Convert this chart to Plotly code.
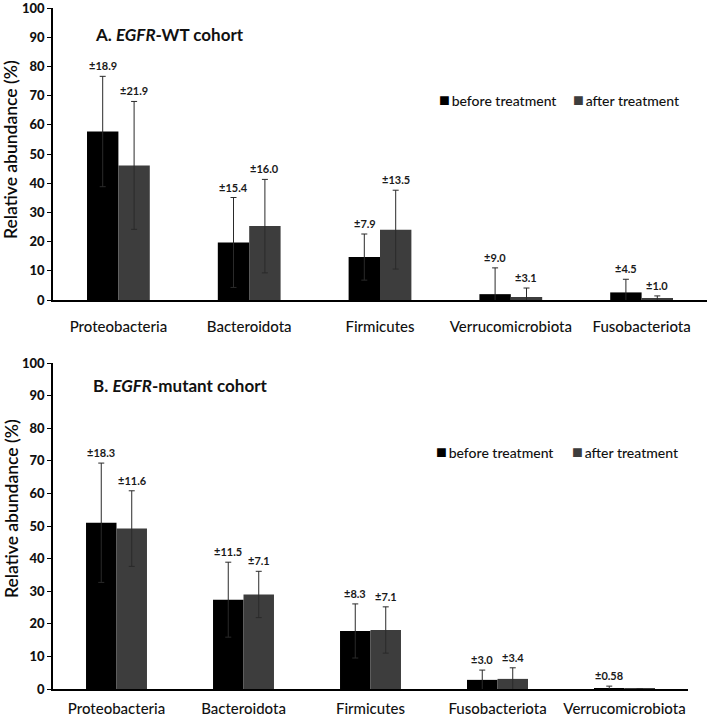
import plotly.graph_objects as go

# ---- data ----
cats_wt = ["Proteobacteria", "Bacteroidota", "Firmicutes", "Verrucomicrobiota", "Fusobacteriota"]
wt_before = [57.7, 19.7, 14.7, 2.0, 2.6]
wt_after = [46.1, 25.3, 24.1, 1.0, 0.4]
wt_before_sd = [18.9, 15.4, 7.9, 9.0, 4.5]
wt_after_sd = [21.9, 16.0, 13.5, 3.1, 1.0]
wt_before_lbl = ["±18.9", "±15.4", "±7.9", "±9.0", "±4.5"]
wt_after_lbl = ["±21.9", "±16.0", "±13.5", "±3.1", "±1.0"]

cats_mt = ["Proteobacteria", "Bacteroidota", "Firmicutes", "Fusobacteriota", "Verrucomicrobiota"]
mt_before = [51.0, 27.4, 17.8, 2.8, 0.3]
mt_after = [49.2, 29.0, 18.1, 3.1, 0.1]
mt_before_sd = [18.3, 11.5, 8.3, 3.0, 0.58]
mt_after_sd = [11.6, 7.1, 7.1, 3.4, 0.0]
mt_before_lbl = ["±18.3", "±11.5", "±8.3", "±3.0", "±0.58"]
mt_after_lbl = ["±11.6", "±7.1", "±7.1", "±3.4", ""]

y_ticks = [0, 10, 20, 30, 40, 50, 60, 70, 80, 90, 100]
series_names = ["before treatment", "after treatment"]
y_title = "Relative abundance (%)"

C_BEFORE = "#000000"
C_AFTER = "#3d3d3d"
FONT = "Lato"
FONT_MED = "Lato Medium, Lato"
W, H = 708, 716

def px_x(p):
    return min(1.0, max(0.0, p / W))

def px_y(p):
    return min(1.0, max(0.0, 1 - p / H))

fig = go.Figure()

def add_panel(cats, before, after, bsd, asd, blbl, albl, xa, ya):
    for vals, sds, col, nm, grp in ((before, bsd, C_BEFORE, series_names[0], "b"),
                                    (after, asd, C_AFTER, series_names[1], "a")):
        fig.add_trace(go.Bar(x=cats, y=vals, name=nm, marker_color=col, marker_line_width=0,
                             showlegend=False,
                             error_y=dict(type="data", array=sds, symmetric=True, color="#2a2a2a",
                                          thickness=1, width=3),
                             xaxis=xa, yaxis=ya, offsetgroup=grp))
    for i, c in enumerate(cats):
        for val, sd, lbl, shift in ((before[i], bsd[i], blbl[i], -0.5), (after[i], asd[i], albl[i], 0.5)):
            if not lbl:
                continue
            fig.add_annotation(x=c, y=val + sd, xref=xa, yref=ya, text="<b>" + lbl + "</b>",
                               showarrow=False, yanchor="bottom", yshift=2,
                               xshift=shift * 31,
                               font=dict(size=11, color="#1a1a1a", family=FONT))

add_panel(cats_wt, wt_before, wt_after, wt_before_sd, wt_after_sd, wt_before_lbl, wt_after_lbl, "x", "y")
add_panel(cats_mt, mt_before, mt_after, mt_before_sd, mt_after_sd, mt_before_lbl, mt_after_lbl, "x2", "y2")

def xax(dom, standoff):
    return dict(domain=dom, showline=True, linecolor="#000000", linewidth=1.5, ticks="",
                showgrid=False, automargin=False, ticklabelstandoff=standoff,
                tickfont=dict(size=15, color="#111111", family=FONT_MED))

def yax(dom, anchor):
    return dict(domain=dom, anchor=anchor, range=[0, 100], tickvals=y_ticks, showline=True,
                linecolor="#000000", linewidth=1.5, ticks="outside", ticklen=4, tickcolor="#000000",
                showgrid=False, zeroline=False, automargin=False, ticklabeloverflow="allow",
                tickfont=dict(size=13, color="#111111", family="Lato Black, Lato"))

fig.update_layout(
    width=W, height=H, margin=dict(l=0, r=0, t=0, b=0, autoexpand=False),
    paper_bgcolor="white", plot_bgcolor="white",
    barmode="group", bargap=0.52, bargroupgap=0,
    font=dict(family=FONT),
    showlegend=False,
    xaxis=dict(anchor="y", **xax([px_x(53), px_x(707)], 12)),
    yaxis=yax([px_y(300), px_y(8)], "x"),
    xaxis2=dict(anchor="y2", **xax([px_x(53), px_x(688)], 5)),
    yaxis2=yax([px_y(689), px_y(363)], "x2"),
)

# y-axis titles
for ycen in (150, 509):
    fig.add_annotation(x=px_x(11), y=px_y(ycen), xref="paper", yref="paper", xanchor="center",
                       yanchor="middle", textangle=-90, showarrow=False, text=y_title,
                       font=dict(size=17.5, color="#0a0a0a", family="Lato Semibold, Lato"))

# panel titles
fig.add_annotation(x=px_x(93), y=px_y(35), xref="paper", yref="paper", xanchor="left", yanchor="middle",
                   text="<b>A. <i>EGFR</i>-WT cohort</b>", showarrow=False,
                   font=dict(size=17, color="#111111", family=FONT))
fig.add_annotation(x=px_x(91), y=px_y(385), xref="paper", yref="paper", xanchor="left", yanchor="middle",
                   text="<b>B. <i>EGFR</i>-mutant cohort</b>", showarrow=False,
                   font=dict(size=17, color="#111111", family=FONT))

# legends (drawn as text with coloured square glyphs)
def legend_row(x0, x1, ypx):
    for xp, nm, col in ((x0, series_names[0], C_BEFORE), (x1, series_names[1], C_AFTER)):
        fig.add_annotation(x=px_x(xp), y=px_y(ypx), xref="paper", yref="paper",
                           xanchor="left", yanchor="middle", showarrow=False,
                           text='<span style="color:%s;font-size:18px">■</span>\u2009%s' % (col, nm),
                           font=dict(size=14, color="#111111", family=FONT_MED))

legend_row(437, 571, 99)
legend_row(434, 570, 451)

fig.write_html("out.html", config={"displayModeBar": False},
               post_script="document.body.style.margin='0';")
